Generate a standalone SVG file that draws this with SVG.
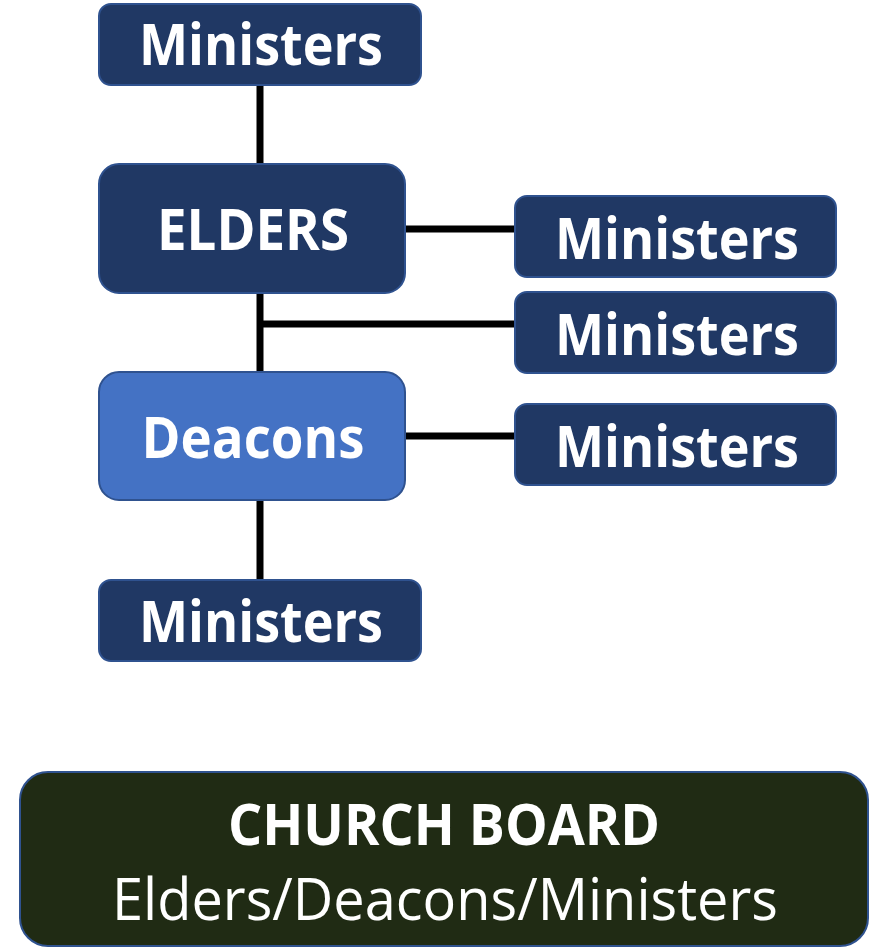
<svg xmlns="http://www.w3.org/2000/svg" width="869" height="947" viewBox="0 0 869 947">
<style>
.box{fill:#203864;stroke:#2F528F;stroke-width:2}
.light{fill:#4472C4;stroke:#2F528F;stroke-width:2}
.board{fill:#202b14;stroke:#2F528F;stroke-width:2}
.t{font-family:"Open Sans","Liberation Sans",sans-serif;font-weight:bold;font-size:58px;fill:#fff;text-anchor:middle}
.r{font-weight:normal}
.c line{stroke:#000;stroke-width:7}
</style>
<rect width="869" height="947" fill="#fff"/>
<g class="c" id="connectors">
<line x1="260" y1="85" x2="260" y2="165"/>
<line x1="405" y1="229" x2="516" y2="229"/>
<line x1="260" y1="293" x2="260" y2="373"/>
<line x1="260" y1="324" x2="516" y2="324"/>
<line x1="405" y1="436" x2="516" y2="436"/>
<line x1="260" y1="500" x2="260" y2="581"/>
</g>
<g id="ministers-top"><rect class="box" x="99" y="4" width="322" height="81" rx="12"/><text class="t" x="261" y="65" textLength="244" lengthAdjust="spacingAndGlyphs">Ministers</text></g>
<g id="elders"><rect class="box" x="99" y="164" width="306" height="129" rx="20"/><text class="t" x="253" y="250" textLength="192" lengthAdjust="spacingAndGlyphs">ELDERS</text></g>
<g id="ministers-r1"><rect class="box" x="515" y="196" width="321" height="81" rx="12"/><text class="t" x="677" y="259" textLength="244" lengthAdjust="spacingAndGlyphs">Ministers</text></g>
<g id="ministers-r2"><rect class="box" x="515" y="292" width="321" height="81" rx="12"/><text class="t" x="677" y="355" textLength="244" lengthAdjust="spacingAndGlyphs">Ministers</text></g>
<g id="deacons"><rect class="light" x="99" y="372" width="306" height="128" rx="20"/><text class="t" x="253" y="458" textLength="223" lengthAdjust="spacingAndGlyphs">Deacons</text></g>
<g id="ministers-r3"><rect class="box" x="515" y="404" width="321" height="81" rx="12"/><text class="t" x="677" y="467" textLength="244" lengthAdjust="spacingAndGlyphs">Ministers</text></g>
<g id="ministers-bottom"><rect class="box" x="99" y="580" width="322" height="81" rx="12"/><text class="t" x="261" y="642" textLength="244" lengthAdjust="spacingAndGlyphs">Ministers</text></g>
<g id="church-board"><rect class="board" x="20" y="772" width="848" height="174" rx="28"/><text class="t" x="444" y="845" textLength="432" lengthAdjust="spacingAndGlyphs">CHURCH BOARD</text><text class="t r" x="445" y="920" textLength="666" lengthAdjust="spacingAndGlyphs">Elders/Deacons/Ministers</text></g>
</svg>
